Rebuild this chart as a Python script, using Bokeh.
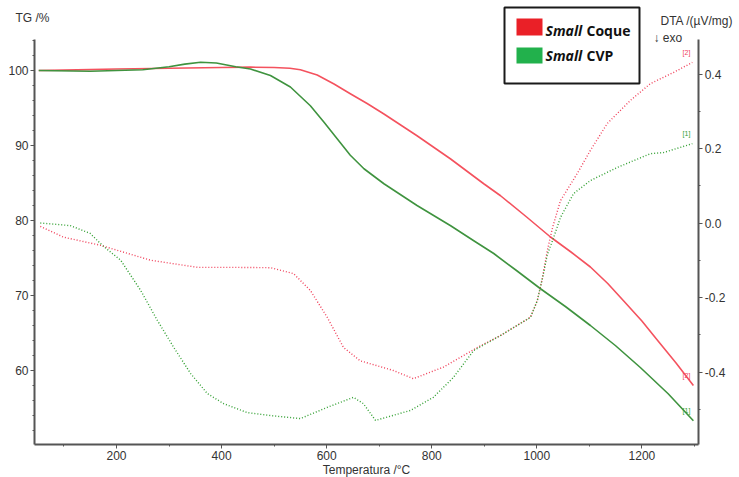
from bokeh.plotting import figure
from bokeh.models import (Range1d, LinearAxis, SingleIntervalTicker, Label,
                          BoxAnnotation, NumeralTickFormatter)
from bokeh.embed import file_html
from bokeh.resources import INLINE

# ---------------- data ----------------
tg_coque_T = [52, 100, 200, 300, 400, 455, 500, 530, 550, 582, 614, 645, 677,
              709, 772, 836, 899, 931, 980, 1026, 1065, 1102, 1135, 1165,
              1200, 1230, 1265, 1298]
tg_coque = [100.0, 100.05, 100.2, 100.3, 100.4, 100.45, 100.4, 100.3, 100.1,
            99.4, 98.2, 96.9, 95.6, 94.2, 91.3, 88.2, 84.9, 83.3, 80.5, 77.8,
            75.8, 73.8, 71.6, 69.3, 66.6, 64.0, 61.0, 58.0]

tg_cvp_T = [52, 150, 250, 300, 330, 360, 390, 427, 455, 493, 531, 569, 595,
            620, 645, 671, 709, 772, 836, 880, 918, 960, 1007, 1055, 1102,
            1150, 1197, 1250, 1298]
tg_cvp = [100.0, 99.9, 100.1, 100.5, 100.85, 101.1, 101.0, 100.5, 100.2,
          99.33, 97.8, 95.3, 93.1, 90.9, 88.7, 86.9, 84.9, 82.0, 79.3, 77.3,
          75.6, 73.4, 70.9, 68.5, 66.0, 63.3, 60.4, 56.9, 53.3]

dta_coque_T = [55, 99, 170, 265, 354, 417, 493, 537, 569, 601, 632, 664, 727,
               765, 822, 887, 931, 988, 1001, 1011, 1020, 1030, 1045, 1077,
               1102, 1134, 1178, 1216, 1260, 1296]
dta_coque = [-0.009, -0.038, -0.06, -0.1, -0.119, -0.119, -0.12, -0.136,
             -0.181, -0.253, -0.334, -0.37, -0.396, -0.418, -0.387, -0.334,
             -0.302, -0.253, -0.208, -0.146, -0.074, -0.012, 0.06, 0.133,
             0.195, 0.267, 0.329, 0.374, 0.404, 0.431]

dta_cvp_T = [55, 112, 150, 173, 208, 246, 278, 309, 341, 373, 404, 449, 493,
             550, 601, 651, 670, 693, 760, 803, 841, 880, 931, 988, 1001,
             1011, 1020, 1032, 1045, 1070, 1102, 1153, 1216, 1241, 1296]
dta_cvp = [0.0, -0.007, -0.028, -0.06, -0.1, -0.181, -0.262, -0.334, -0.404,
           -0.458, -0.485, -0.509, -0.517, -0.525, -0.495, -0.468, -0.485,
           -0.53, -0.503, -0.468, -0.415, -0.342, -0.302, -0.253, -0.208,
           -0.146, -0.085, -0.039, 0.015, 0.079, 0.114, 0.149, 0.186, 0.189,
           0.213]

series_names = ["Small", "Small"]
series_suffix = ["Coque", "CVP"]
x_label = "Temperatura /°C"
left_title = "TG /%"
right_title = "DTA /(µV/mg)"
exo_note = "↓ exo"

RED = "#f4525e"
GREEN = "#3f933f"
RED_DOT = "#f0405a"
GREEN_DOT = "#33a033"
SW_RED = "#ea2027"
SW_GREEN = "#22b14c"
AX = "#555555"
TXT = "#333333"
FONT = "Liberation Sans"

W, H = 739, 477

# helpers: reference page position -> data coordinates (for annotations)
def tx(px):
    return 200 + (px - 116) / 0.5254

def ty(py):
    return 100 - (py - 70) / 7.5

def dy(py):
    return (222.5 - py) / 372.5

# axis extents (data) and full-canvas view ranges
T_LO, T_HI = 44, 1308
TG_LO, TG_HI = 50.13, 104.13
DTA_LO, DTA_HI = -0.595, 0.4926
VIEW_T = (tx(0), tx(W))
VIEW_TG = (ty(H), ty(0))
VIEW_DTA = (dy(H), dy(0))

p = figure(width=W, height=H, x_range=Range1d(*VIEW_T),
           y_range=Range1d(*VIEW_TG), output_backend="svg",
           toolbar_location=None, min_border=0)
p.extra_y_ranges = {"dta": Range1d(*VIEW_DTA)}
p.grid.visible = False
p.outline_line_color = None
p.background_fill_color = "white"

def style(ax):
    ax.axis_line_color = AX
    ax.axis_line_width = 2
    ax.major_tick_line_color = AX
    ax.minor_tick_line_color = AX
    ax.major_tick_in = 0
    ax.major_tick_out = 4
    ax.minor_tick_in = 0
    ax.minor_tick_out = 2
    ax.major_label_text_font = FONT
    ax.major_label_text_font_size = "12px"
    ax.major_label_text_color = TXT
    ax.major_label_standoff = 2

xaxis = p.xaxis[0]
xaxis.ticker = SingleIntervalTicker(interval=200, num_minor_ticks=2)
xaxis.bounds = (T_LO, T_HI)
xaxis.fixed_location = TG_LO
style(xaxis)
xaxis.axis_label = x_label
xaxis.axis_label_text_font = FONT
xaxis.axis_label_text_font_size = "12px"
xaxis.axis_label_text_font_style = "normal"
xaxis.axis_label_text_color = TXT
xaxis.axis_label_standoff = 0

yaxis = p.yaxis[0]
yaxis.ticker = SingleIntervalTicker(interval=10, num_minor_ticks=5)
yaxis.bounds = (TG_LO, TG_HI)
yaxis.fixed_location = T_LO
style(yaxis)

right = LinearAxis(y_range_name="dta", bounds=(DTA_LO, DTA_HI),
                   fixed_location=T_HI,
                   ticker=SingleIntervalTicker(interval=0.2, num_minor_ticks=2),
                   formatter=NumeralTickFormatter(format="0.0"))
style(right)
p.add_layout(right, "right")

# TG curves (solid)
p.line(tg_coque_T, tg_coque, line_color=RED, line_width=1.6,
       line_join="round")
p.line(tg_cvp_T, tg_cvp, line_color=GREEN, line_width=1.6,
       line_join="round")
# DTA curves (dotted)
p.line(dta_coque_T, dta_coque, y_range_name="dta", line_color=RED_DOT,
       line_width=1.4, line_dash="1 2")
p.line(dta_cvp_T, dta_cvp, y_range_name="dta", line_color=GREEN_DOT,
       line_width=1.4, line_dash="1 2")

# curve end tags
for txt, col, yy in [("[2]", RED_DOT, ty(375)), ("[1]", GREEN_DOT, ty(410))]:
    p.add_layout(Label(x=tx(686), y=yy, text=txt, text_color=col,
                       text_font=FONT, text_font_size="7px",
                       text_align="center", text_baseline="middle"))
for txt, col, yy in [("[2]", RED_DOT, dy(52)), ("[1]", GREEN_DOT, dy(133))]:
    p.add_layout(Label(x=tx(686), y=yy, y_range_name="dta", text=txt,
                       text_color=col, text_font=FONT, text_font_size="7px",
                       text_align="center", text_baseline="middle"))

# axis titles
p.add_layout(Label(x=tx(15), y=ty(17), text=left_title,
                   text_font=FONT, text_font_size="12px", text_color=TXT,
                   text_baseline="middle"))
p.add_layout(Label(x=tx(660), y=ty(20), text=right_title,
                   text_font=FONT, text_font_size="12px", text_color=TXT,
                   text_baseline="middle"))
p.add_layout(Label(x=tx(653), y=ty(37), text=exo_note, text_font=FONT,
                   text_font_size="12px", text_color=TXT,
                   text_baseline="middle"))

# legend box
p.add_layout(BoxAnnotation(left=tx(504), right=tx(639), top=ty(7),
                           bottom=ty(83), fill_color="white", fill_alpha=1,
                           line_color="#1a1a1a", line_alpha=1, line_width=2))
for col, y0, y1, yc, nm, sf in [
        (SW_RED, 18, 35, 30, series_names[0], series_suffix[0]),
        (SW_GREEN, 47, 63, 55, series_names[1], series_suffix[1])]:
    p.add_layout(BoxAnnotation(left=tx(516), right=tx(542), top=ty(y0),
                               bottom=ty(y1), fill_color=col, fill_alpha=1,
                               line_color=None))
    p.add_layout(Label(x=tx(545), y=ty(yc), text=nm, text_font="Open Sans",
                       text_font_size="14px", text_font_style="bold italic",
                       text_color="#111111", text_baseline="middle"))
    p.add_layout(Label(x=tx(586), y=ty(yc), text=sf, text_font="Open Sans",
                       text_font_size="14px", text_font_style="bold",
                       text_color="#111111", text_baseline="middle"))

open("out.html", "w").write(file_html(p, INLINE))
